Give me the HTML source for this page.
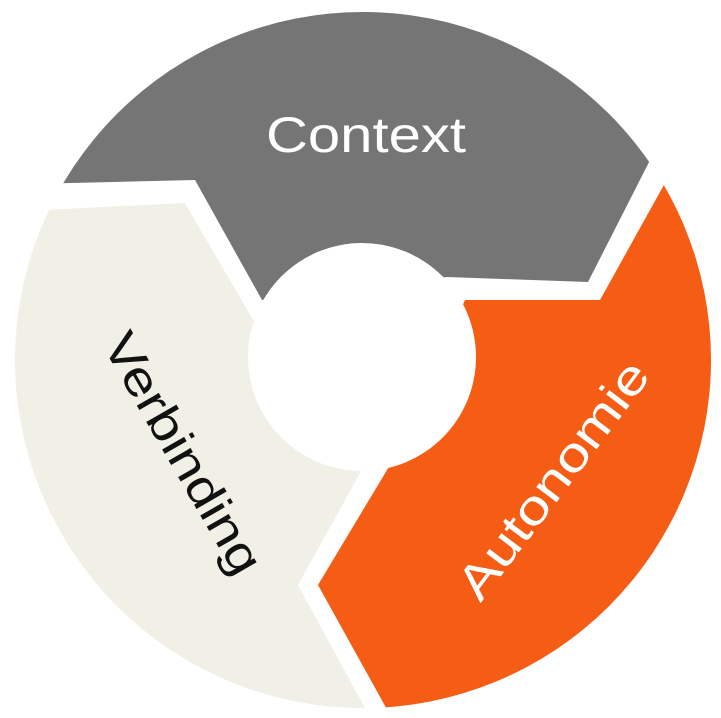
<!DOCTYPE html>
<html><head><style>html,body{margin:0;padding:0;background:#fff;overflow:hidden;width:721px;height:718px}svg{display:block}</style></head>
<body>
<svg width="721" height="718" viewBox="0 0 721 718" xmlns="http://www.w3.org/2000/svg">
<defs><clipPath id="c"><circle cx="363" cy="360" r="348"/></clipPath></defs>
<g clip-path="url(#c)">
<polygon fill="#757575" points="-50,186 195,180 262,300 447,277 588,282 701,60 760,-50 -50,-50"/>
<polygon fill="#f55c14" points="465,300 600,300 720,84 800,84 800,800 440,805 318,585 390,465"/>
<polygon fill="#f0f0e7" points="252,318 185,203 42,210 -50,214 -50,800 415,800 298,585 370,455"/>
</g>
<circle cx="362" cy="357" r="114" fill="#fff"/>
<text x="366" y="152" text-anchor="middle" textLength="200" lengthAdjust="spacingAndGlyphs" font-family="Liberation Sans, sans-serif" font-size="50" fill="#fff">Context</text>
<text transform="translate(180,455) rotate(60)" text-anchor="middle" dominant-baseline="middle" textLength="270" lengthAdjust="spacingAndGlyphs" font-family="Liberation Sans, sans-serif" font-size="48" fill="#111">Verbinding</text>
<text transform="translate(556,482) rotate(-53)" text-anchor="middle" dominant-baseline="middle" textLength="285" lengthAdjust="spacingAndGlyphs" font-family="Liberation Sans, sans-serif" font-size="48" fill="#fff">Autonomie</text>
</svg>
</body></html>
